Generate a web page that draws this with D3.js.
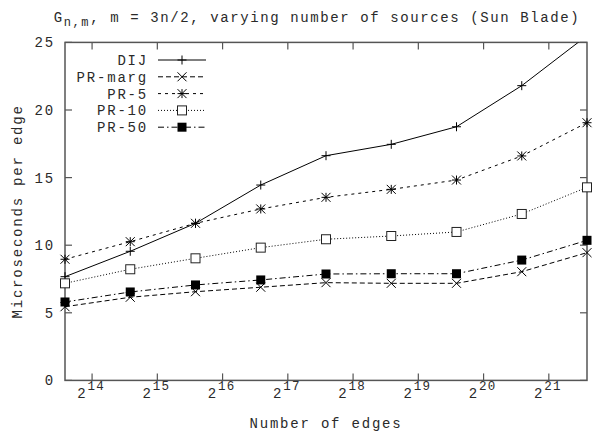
<!DOCTYPE html>
<html>
<head>
<meta charset="utf-8">
<script src="https://cdn.jsdelivr.net/npm/d3@7"></script>
<style>
  body { margin: 0; background: #fff; }
  text { font-family: "Liberation Mono", "DejaVu Sans Mono", monospace; font-size: 14px; letter-spacing: 1.8px; fill: #2a2a2a; }
</style>
</head>
<body>
<div id="chart"></div>
<script>
// exponents of the number of edges (m = 3n/2, n = 2^13 ... 2^21)
const edgeExp = [13.585, 14.585, 15.585, 16.585, 17.585, 18.585, 19.585, 20.585, 21.585];
const seriesNames = ["DIJ", "PR-marg", "PR-5", "PR-10", "PR-50"];
const dij    = [7.67, 9.55, 11.62, 14.45, 16.62, 17.46, 18.76, 21.8, 25.5];
const prMarg = [5.45, 6.15, 6.56, 6.89, 7.23, 7.18, 7.18, 8.04, 9.45];
const pr5    = [8.96, 10.26, 11.62, 12.68, 13.54, 14.13, 14.82, 16.6, 19.06];
const pr10   = [7.18, 8.22, 9.03, 9.82, 10.44, 10.68, 10.98, 12.31, 14.28];
const pr50   = [5.8, 6.54, 7.06, 7.43, 7.87, 7.89, 7.89, 8.9, 10.36];
const xTicks = [14, 15, 16, 17, 18, 19, 20, 21];
const yTicks = [0, 5, 10, 15, 20, 25];

const width = 594, height = 436;
const margin = {top: 42.4, right: 7, bottom: 55.6, left: 65};
const w = width - margin.left - margin.right;
const h = height - margin.top - margin.bottom;

const svg = d3.select("#chart").append("svg")
    .attr("width", width)
    .attr("height", height);

const g = svg.append("g")
    .attr("transform", `translate(${margin.left}, ${margin.top})`);

const x = d3.scaleLinear().domain([13.585, 21.585]).range([0, w]);
const y = d3.scaleLinear().domain([0, 25]).range([h, 0]);

// clip only vertically so markers on the right edge stay whole
svg.append("defs").append("clipPath").attr("id", "clip")
    .append("rect").attr("x", -15).attr("y", 0).attr("width", w + 30).attr("height", h);

const series = [
    {name: seriesNames[0], values: dij,    dash: null,        marker: "plus"},
    {name: seriesNames[1], values: prMarg, dash: "5,3",       marker: "cross"},
    {name: seriesNames[2], values: pr5,    dash: "3,4",       marker: "star"},
    {name: seriesNames[3], values: pr10,   dash: "1,2",       marker: "box"},
    {name: seriesNames[4], values: pr50,   dash: "6,3,1.5,3", marker: "fbox"}
];

const axisColor = "#555";

// ticks on all four sides, pointing inwards
const tickLen = 7;
g.selectAll(".xtick-b").data(xTicks).enter().append("line")
    .attr("x1", d => x(d)).attr("x2", d => x(d))
    .attr("y1", h).attr("y2", h - tickLen)
    .attr("stroke", axisColor).attr("stroke-width", 1.2);
g.selectAll(".xtick-t").data(xTicks).enter().append("line")
    .attr("x1", d => x(d)).attr("x2", d => x(d))
    .attr("y1", 0).attr("y2", tickLen)
    .attr("stroke", axisColor).attr("stroke-width", 1.2);
g.selectAll(".ytick-l").data(yTicks).enter().append("line")
    .attr("x1", 0).attr("x2", tickLen)
    .attr("y1", d => y(d)).attr("y2", d => y(d))
    .attr("stroke", axisColor).attr("stroke-width", 1.2);
g.selectAll(".ytick-r").data(yTicks).enter().append("line")
    .attr("x1", w).attr("x2", w - tickLen)
    .attr("y1", d => y(d)).attr("y2", d => y(d))
    .attr("stroke", axisColor).attr("stroke-width", 1.2);

// y tick labels
g.selectAll(".ylab").data(yTicks).enter().append("text")
    .attr("x", -10).attr("y", d => y(d) + 5)
    .style("text-anchor", "end")
    .text(d => d);

// x tick labels: 2^k
const xl = g.selectAll(".xlab").data(xTicks).enter().append("text")
    .attr("x", d => x(d) - 1).attr("y", h + 18)
    .style("text-anchor", "middle");
xl.append("tspan").text("2");
xl.append("tspan").attr("dy", -8).style("font-size", "12.5px").style("letter-spacing", "1.2px").text(d => d);

// frame
g.append("rect")
    .attr("x", 0).attr("y", 0).attr("width", w).attr("height", h)
    .attr("fill", "none").attr("stroke", axisColor).attr("stroke-width", 1.5);

const line = d3.line()
    .x((d, i) => x(edgeExp[i]))
    .y(d => y(d));

function drawMarker(sel, type) {
    const s = 4.5;
    if (type === "plus" || type === "star") {
        sel.append("path").attr("d", `M${-s},0H${s}M0,${-s}V${s}`)
            .attr("stroke", "#000").attr("stroke-width", 1);
    }
    if (type === "cross" || type === "star") {
        sel.append("path").attr("d", `M${-s},${-s}L${s},${s}M${-s},${s}L${s},${-s}`)
            .attr("stroke", "#000").attr("stroke-width", 1);
    }
    if (type === "box") {
        sel.append("rect").attr("x", -s).attr("y", -s).attr("width", 2 * s).attr("height", 2 * s)
            .attr("fill", "#fff").attr("stroke", "#222").attr("stroke-width", 1);
    }
    if (type === "fbox") {
        sel.append("rect").attr("x", -s).attr("y", -s).attr("width", 2 * s).attr("height", 2 * s)
            .attr("fill", "#000");
    }
}

const plot = g.append("g").attr("clip-path", "url(#clip)");

series.forEach(s => {
    plot.append("path")
        .datum(s.values)
        .attr("d", line)
        .attr("fill", "none")
        .attr("stroke", "#000")
        .attr("stroke-width", 1)
        .attr("stroke-dasharray", s.dash);
    s.values.forEach((v, i) => {
        const m = plot.append("g").attr("transform", `translate(${x(edgeExp[i])}, ${y(v)})`);
        drawMarker(m, s.marker);
    });
});

// legend
const legend = svg.append("g");
series.forEach((s, i) => {
    const ly = 60 + i * 16.8;
    legend.append("text")
        .attr("x", 148).attr("y", ly + 5)
        .style("text-anchor", "end")
        .text(s.name);
    legend.append("line")
        .attr("x1", 158).attr("x2", 206)
        .attr("y1", ly).attr("y2", ly)
        .attr("stroke", "#000").attr("stroke-width", 1)
        .attr("stroke-dasharray", s.dash);
    drawMarker(legend.append("g").attr("transform", `translate(182, ${ly})`), s.marker);
});

// axis titles
svg.append("text")
    .attr("x", margin.left + w / 2).attr("y", 428)
    .style("text-anchor", "middle")
    .text("Number of edges");

svg.append("text")
    .attr("transform", `translate(22, ${margin.top + h / 2}) rotate(-90)`)
    .style("text-anchor", "middle")
    .text("Microseconds per edge");

// chart title
const title = svg.append("text")
    .attr("x", 317).attr("y", 22)
    .style("text-anchor", "middle")
    .style("letter-spacing", "1.6px");
title.append("tspan").text("G");
title.append("tspan").attr("dy", 4).style("font-size", "12px").text("n,m");
title.append("tspan").attr("dy", -4).text(", m = 3n/2, varying number of sources (Sun Blade)");
</script>
</body>
</html>
